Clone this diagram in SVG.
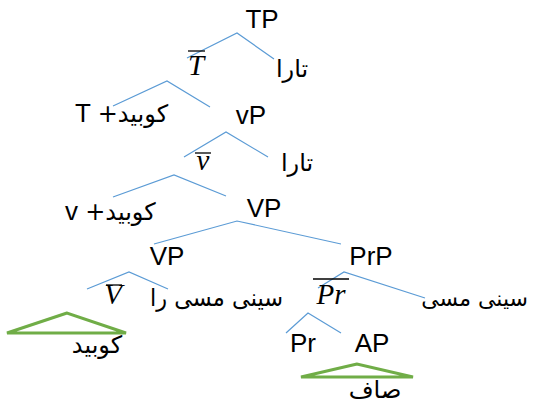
<svg xmlns="http://www.w3.org/2000/svg" width="533" height="405" viewBox="0 0 533 405">
<style>
.lat{font-family:"Liberation Sans",Arial,sans-serif;font-size:26px;fill:#000}
.ar{font-family:"DejaVu Sans",sans-serif;font-size:24px;fill:#000}
.mi{font-family:"Liberation Serif","Times New Roman",serif;font-style:italic;font-size:29px;fill:#000}
.br{stroke:#5B9BD5;stroke-width:1.2;fill:none}
.tri{stroke:#70AD47;stroke-width:3;fill:none;stroke-linejoin:miter}
.bar{stroke:#000;stroke-width:1.3}
</style>
<rect width="533" height="405" fill="#fff"/>
<g id="connectors">
<polyline class="br" points="187,58 237,33 274,59"/>
<polyline class="br" points="113,106 167,81 210,107"/>
<polyline class="br" points="184,157 226,132 268,157"/>
<polyline class="br" points="113,197 174,175 226,196"/>
<polyline class="br" points="154,244 237,221 341,244"/>
<polyline class="br" points="87,289 129,272 168,289"/>
<polyline class="br" points="318,288 344,272 425,298"/>
<polyline class="br" points="286,333 308,313 341,333"/>
</g>
<g id="TP"><text class="lat" x="262" y="28" text-anchor="middle">TP</text></g>
<g id="spec1"><text class="ar" x="292" y="77" text-anchor="middle">تارا</text></g>
<g id="Tbar"><line class="bar" x1="188" y1="51" x2="205" y2="51"/><text class="mi" x="196" y="75" text-anchor="middle">T</text></g>
<g id="T"><text class="lat" x="75" y="122">T <tspan class="ar">+کوبید</tspan></text></g>
<g id="vP"><text class="lat" x="251" y="124" text-anchor="middle">vP</text></g>
<g id="spec2"><text class="ar" x="297" y="171" text-anchor="middle">تارا</text></g>
<g id="vbar"><line class="bar" x1="195" y1="153" x2="211" y2="153"/><text class="mi" x="203" y="170" text-anchor="middle">v</text></g>
<g id="v"><text class="lat" x="65" y="220">v <tspan class="ar">+کوبید</tspan></text></g>
<g id="VP1"><text class="lat" x="264" y="217" text-anchor="middle">VP</text></g>
<g id="VP2"><text class="lat" x="167" y="265" text-anchor="middle">VP</text></g>
<g id="PrP"><text class="lat" x="371" y="265" text-anchor="middle">PrP</text></g>
<g id="Vbar"><line class="bar" x1="106" y1="285" x2="122" y2="285"/><text class="mi" x="113" y="304" text-anchor="middle">V</text></g>
<g id="obj1"><text class="ar" x="150" y="306" textLength="133" lengthAdjust="spacingAndGlyphs">سینی مسی را</text></g>
<g id="Prbar"><line class="bar" x1="313" y1="279" x2="349" y2="279"/><text class="mi" x="331" y="304" text-anchor="middle">Pr</text></g>
<g id="obj2"><text class="ar" x="528" y="306" text-anchor="end" style="font-size:22px">سینی مسی</text></g>
<g id="Vhead"><polygon class="tri" points="67,313 7,333 126,333"/><text class="ar" x="97" y="353" text-anchor="middle">کوبید</text></g>
<g id="Pr"><text class="lat" x="303" y="352" text-anchor="middle">Pr</text></g>
<g id="AP"><text class="lat" x="372" y="352" text-anchor="middle">AP</text><polygon class="tri" points="357,364 301,377 413,377"/><text class="ar" x="375" y="398" text-anchor="middle">صاف</text></g>
</svg>
